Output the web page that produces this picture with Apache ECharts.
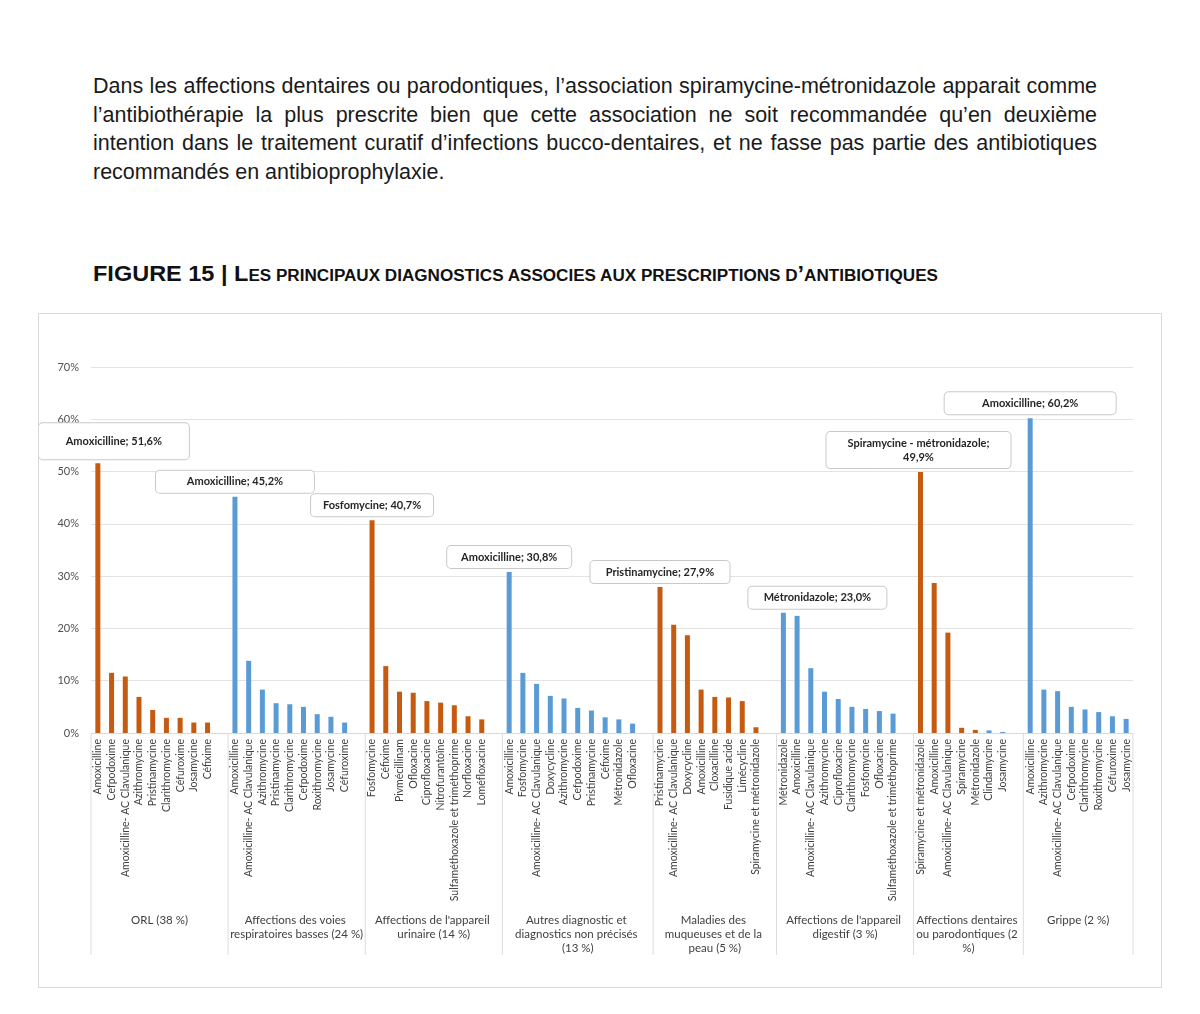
<!DOCTYPE html>
<html>
<head>
<meta charset="utf-8">
<script src="https://cdn.jsdelivr.net/npm/echarts@6/dist/echarts.min.js"></script>
<style>
  html, body { margin: 0; padding: 0; background: #fff; }
  body { width: 1200px; height: 1014px; position: relative; overflow: hidden; }
  .para { position: absolute; left: 93px; top: 72px; width: 1004px;
    font-family: "Liberation Sans", Arial, sans-serif; font-size: 21.5px; line-height: 28.7px; color: #1a1a1a; }
  .para div { white-space: nowrap; text-align: justify; text-align-last: justify; }
  .para div.last { text-align-last: left; }
  .fig { position: absolute; left: 93px; top: 261px; white-space: nowrap;
    font-family: "Liberation Sans", Arial, sans-serif; font-weight: bold; color: #111;
    transform-origin: left top; }
  .fig .big { font-size: 22px; }
  .fig .sm { font-size: 16px; }
  .frame { position: absolute; left: 38px; top: 313px; width: 1122px; height: 673px; border: 1px solid #d9d9d9; }
  #chart { width: 1122px; height: 673px; }
</style>
</head>
<body>
<div class="para">
  <div>Dans les affections dentaires ou parodontiques, l’association spiramycine-métronidazole apparait comme</div>
  <div>l’antibiothérapie la plus prescrite bien que cette association ne soit recommandée qu’en deuxième</div>
  <div>intention dans le traitement curatif d’infections bucco-dentaires, et ne fasse pas partie des antibiotiques</div>
  <div class="last">recommandés en antibioprophylaxie.</div>
</div>
<div class="fig" id="fig"><span class="big">FIGURE 15 | L</span><span class="sm">ES PRINCIPAUX DIAGNOSTICS ASSOCIES AUX PRESCRIPTIONS D</span><span class="big">’</span><span class="sm">ANTIBIOTIQUES</span></div>
<div class="frame"><div id="chart"></div></div>

<script>
// groupes de diagnostics
const groupLabels = [
  "ORL (38 %)",
  "Affections des voies respiratoires basses (24 %)",
  "Affections de l'appareil urinaire (14 %)",
  "Autres diagnostic et diagnostics non précisés (13 %)",
  "Maladies des muqueuses et de la peau (5 %)",
  "Affections de l'appareil digestif (3 %)",
  "Affections dentaires ou parodontiques (2 %)",
  "Grippe (2 %)"
];

const orlNames = ["Amoxicilline", "Cefpodoxime", "Amoxicilline- AC Clavulanique", "Azithromycine", "Pristinamycine", "Clarithromycine", "Céfuroxime", "Josamycine", "Céfixime"];
const orlValues = [51.6, 11.5, 10.8, 6.9, 4.4, 2.9, 2.9, 2.0, 2.0];

const respNames = ["Amoxicilline", "Amoxicilline- AC Clavulanique", "Azithromycine", "Pristinamycine", "Clarithromycine", "Cefpodoxime", "Roxithromycine", "Josamycine", "Céfuroxime"];
const respValues = [45.2, 13.8, 8.3, 5.7, 5.5, 5.0, 3.6, 3.1, 2.0];

const urinNames = ["Fosfomycine", "Céfixime", "Pivmécillinam", "Ofloxacine", "Ciprofloxacine", "Nitrofurantoïne", "Sulfaméthoxazole et triméthoprime", "Norfloxacine", "Loméfloxacine"];
const urinValues = [40.7, 12.8, 7.9, 7.7, 6.1, 5.8, 5.3, 3.2, 2.6];

const autresNames = ["Amoxicilline", "Fosfomycine", "Amoxicilline- AC Clavulanique", "Doxycycline", "Azithromycine", "Cefpodoxime", "Pristinamycine", "Céfixime", "Métronidazole", "Ofloxacine"];
const autresValues = [30.8, 11.5, 9.4, 7.1, 6.6, 4.8, 4.3, 3.0, 2.6, 1.8];

const peauNames = ["Pristinamycine", "Amoxicilline- AC Clavulanique", "Doxycycline", "Amoxicilline", "Cloxacilline", "Fusidique acide", "Limécycline", "Spiramycine et métronidazole"];
const peauValues = [27.9, 20.7, 18.7, 8.3, 6.9, 6.8, 6.1, 1.1];

const digestNames = ["Métronidazole", "Amoxicilline", "Amoxicilline- AC Clavulanique", "Azithromycine", "Ciprofloxacine", "Clarithromycine", "Fosfomycine", "Ofloxacine", "Sulfaméthoxazole et triméthoprime"];
const digestValues = [23.0, 22.4, 12.4, 7.9, 6.5, 5.0, 4.6, 4.2, 3.7];

const dentNames = ["Spiramycine et métronidazole", "Amoxicilline", "Amoxicilline- AC Clavulanique", "Spiramycine", "Métronidazole", "Clindamycine", "Josamycine"];
const dentValues = [49.9, 28.7, 19.2, 1.0, 0.6, 0.5, 0.2];

const grippeNames = ["Amoxicilline", "Azithromycine", "Amoxicilline- AC Clavulanique", "Cefpodoxime", "Clarithromycine", "Roxithromycine", "Céfuroxime", "Josamycine"];
const grippeValues = [60.2, 8.3, 8.0, 5.0, 4.5, 4.0, 3.2, 2.7];

// étiquettes des premiers antibiotiques
const calloutNames = ["Amoxicilline", "Amoxicilline", "Fosfomycine", "Amoxicilline", "Pristinamycine", "Métronidazole", "Spiramycine - métronidazole;\n", "Amoxicilline"];

const yTicks = [0, 10, 20, 30, 40, 50, 60, 70];

const groupNames = [orlNames, respNames, urinNames, autresNames, peauNames, digestNames, dentNames, grippeNames];
const groupValues = [orlValues, respValues, urinValues, autresValues, peauValues, digestValues, dentValues, grippeValues];

const ORANGE = "#c55a11";
const BLUE = "#5b9bd5";

// taille des bulles : [largeur, padding vertical, décalage x]
const boxStyle = [[150, 11, 16], [158, 4, 0], [122, 4, 0], [124, 4, 0], [139, 4, 0], [138, 4, 34], [184, 4, -2], [171, 4, 0]];
// largeur de retour à la ligne des libellés de groupe
const groupTextW = [137, 137, 137, 145, 108, 137, 108, 120];

const fmt = (v) => v.toFixed(1).replace(".", ",") + "%";

// construction des catégories (une case vide après chaque groupe sauf le dernier)
const categories = [];
const barData = [];
const groupRanges = [];
groupNames.forEach((names, gi) => {
  const start = categories.length;
  names.forEach((n, i) => {
    categories.push(n);
    const v = groupValues[gi][i];
    const blue = gi % 2 === 1 || (gi === 6 && i >= 5);
    const item = { value: v, itemStyle: { color: blue ? BLUE : ORANGE } };
    if (i === 0) {
      const [w, pv, dx] = boxStyle[gi];
      const sep = gi === 6 ? "" : "; ";
      item.label = {
        show: true,
        position: "top",
        distance: 4,
        offset: [dx, 0],
        formatter: calloutNames[gi] + sep + fmt(v),
        width: w - 2,
        align: "center",
        padding: [pv, 1],
        lineHeight: 14,
        backgroundColor: "#fff",
        borderColor: "#c9c9c9",
        borderWidth: 1,
        borderRadius: 4,
        color: "#262626",
        fontWeight: "bold",
        fontSize: 11,
        fontFamily: "Lato",
      };
    }
    barData.push(item);
  });
  if (gi < groupNames.length - 1) {
    categories.push("");
    barData.push("-");
  }
  groupRanges.push([start, categories.length - 1]);
});

const chart = echarts.init(document.getElementById("chart"));
chart.setOption({
  animation: false,
  textStyle: { fontFamily: "Lato" },
  grid: { left: 52, right: 28, top: 53, height: 366 },
  xAxis: {
    type: "category",
    data: categories,
    axisLine: { lineStyle: { color: "#d9d9d9" } },
    axisTick: { show: false },
    axisLabel: { rotate: 90, interval: 0, fontSize: 10.5, color: "#404040", margin: 6, fontFamily: "Lato" },
  },
  yAxis: {
    type: "value",
    min: yTicks[0],
    max: yTicks[yTicks.length - 1],
    interval: yTicks[1] - yTicks[0],
    axisLine: { show: false },
    axisTick: { show: false },
    axisLabel: { formatter: "{value}%", fontSize: 11, color: "#505050", margin: 12, fontFamily: "Lato" },
    splitLine: { lineStyle: { color: "#e3e3e3" } },
  },
  series: [{
    type: "bar",
    data: barData,
    barWidth: 5,
  }],
});

// séparateurs et libellés des groupes
const x0 = chart.convertToPixel({ xAxisIndex: 0 }, 0);
const x1 = chart.convertToPixel({ xAxisIndex: 0 }, 1);
const slot = x1 - x0;
const yZero = chart.convertToPixel({ yAxisIndex: 0 }, 0);
const graphics = [];
groupRanges.forEach(([s, e], gi) => {
  const left = chart.convertToPixel({ xAxisIndex: 0 }, s) - slot / 2;
  const right = chart.convertToPixel({ xAxisIndex: 0 }, e) + slot / 2;
  if (gi === 0) {
    graphics.push({ type: "line", shape: { x1: left, y1: yZero + 1, x2: left, y2: yZero + 222 }, style: { stroke: "#dcdcdc", lineWidth: 1 } });
  }
  graphics.push({ type: "line", shape: { x1: right, y1: yZero + 1, x2: right, y2: yZero + 222 }, style: { stroke: "#dcdcdc", lineWidth: 1 } });
  graphics.push({
    type: "text",
    x: (left + right) / 2,
    y: yZero + 180,
    style: {
      text: groupLabels[gi],
      width: groupTextW[gi],
      overflow: "break",
      align: "center",
      verticalAlign: "top",
      lineHeight: 14,
      fontSize: 11.5,
      fontFamily: "Lato",
      fill: "#404040",
    },
  });
});
chart.setOption({ graphic: graphics });

// titre de la figure : largeur condensée
const fig = document.getElementById("fig");
const w = fig.getBoundingClientRect().width;
fig.style.transform = "scaleX(" + (845 / w) + ")";
</script>
</body>
</html>
